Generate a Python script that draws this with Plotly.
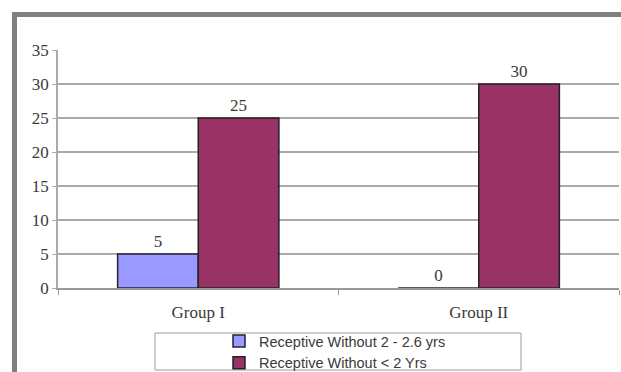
import plotly.graph_objects as go

# Chart data
groups = ["Group I", "Group II"]
series_names = ["Receptive Without 2 - 2.6 yrs", "Receptive Without < 2 Yrs"]
values_2_26 = [5, 0]
values_lt2 = [25, 30]
y_ticks = [0, 5, 10, 15, 20, 25, 30, 35]

W, H = 621, 372
L, R, T, B = 58, 2, 50, 84
PW, PH = W - L - R, H - T - B


def px_x(p):
    return (p - L) / PW


def px_y(p):
    return (H - B - p) / PH


serif = "Liberation Serif, Times New Roman, serif"
sans = "Liberation Sans, Arial, sans-serif"
text_col = "#3a3a3a"

fig = go.Figure()
fig.add_trace(go.Bar(
    x=groups, y=values_2_26, name=series_names[0],
    marker=dict(color="#9999ff", line=dict(color="#222233", width=1.5)),
    text=[str(v) for v in values_2_26], textposition="outside",
    textfont=dict(family=serif, size=17, color=text_col),
    cliponaxis=False,
))
fig.add_trace(go.Bar(
    x=groups, y=values_lt2, name=series_names[1],
    marker=dict(color="#993366", line=dict(color="#222222", width=1.5)),
    text=[str(v) for v in values_lt2], textposition="outside",
    textfont=dict(family=serif, size=17, color=text_col),
    cliponaxis=False,
))

shapes = [
    # grey frame along top and left
    dict(type="rect", xref="paper", yref="paper",
         x0=px_x(12), x1=px_x(622), y0=px_y(17), y1=px_y(12),
         fillcolor="#808080", line=dict(width=0), layer="above"),
    dict(type="rect", xref="paper", yref="paper",
         x0=px_x(12), x1=px_x(17), y0=px_y(373), y1=px_y(12),
         fillcolor="#808080", line=dict(width=0), layer="above"),
    # legend box
    dict(type="rect", xref="paper", yref="paper",
         x0=px_x(155), x1=px_x(521), y0=px_y(370), y1=px_y(333),
         fillcolor="rgba(0,0,0,0)", line=dict(color="#9a9a9a", width=1)),
]

fig.update_layout(
    width=W, height=H,
    margin=dict(l=L, r=R, t=T, b=B, autoexpand=False),
    paper_bgcolor="white", plot_bgcolor="white",
    barmode="group", bargap=0.425, bargroupgap=0,
    showlegend=True,
    legend=dict(
        x=px_x(335), xanchor="center", y=px_y(352), yanchor="middle",
        font=dict(family=sans, size=14.5, color=text_col),
        bgcolor="rgba(0,0,0,0)", borderwidth=0,
        tracegroupgap=0, itemwidth=30,
    ),
    shapes=shapes,
    xaxis=dict(
        showgrid=False, showline=True, linecolor="#999999", linewidth=1.5,
        ticks="outside", tickson="boundaries", ticklen=5, tickcolor="#999999",
        tickfont=dict(family=serif, size=17, color=text_col),
        ticklabelstandoff=8,
    ),
    yaxis=dict(
        range=[0, 35], tickvals=y_ticks,
        showgrid=True, gridcolor="#aaaaaa", gridwidth=1.5,
        showline=True, linecolor="#aaaaaa", linewidth=1.5,
        ticks="outside", ticklen=4, tickcolor="#aaaaaa",
        tickfont=dict(family=serif, size=17, color=text_col),
        zeroline=False,
    ),
)

fig.write_html("out.html")
